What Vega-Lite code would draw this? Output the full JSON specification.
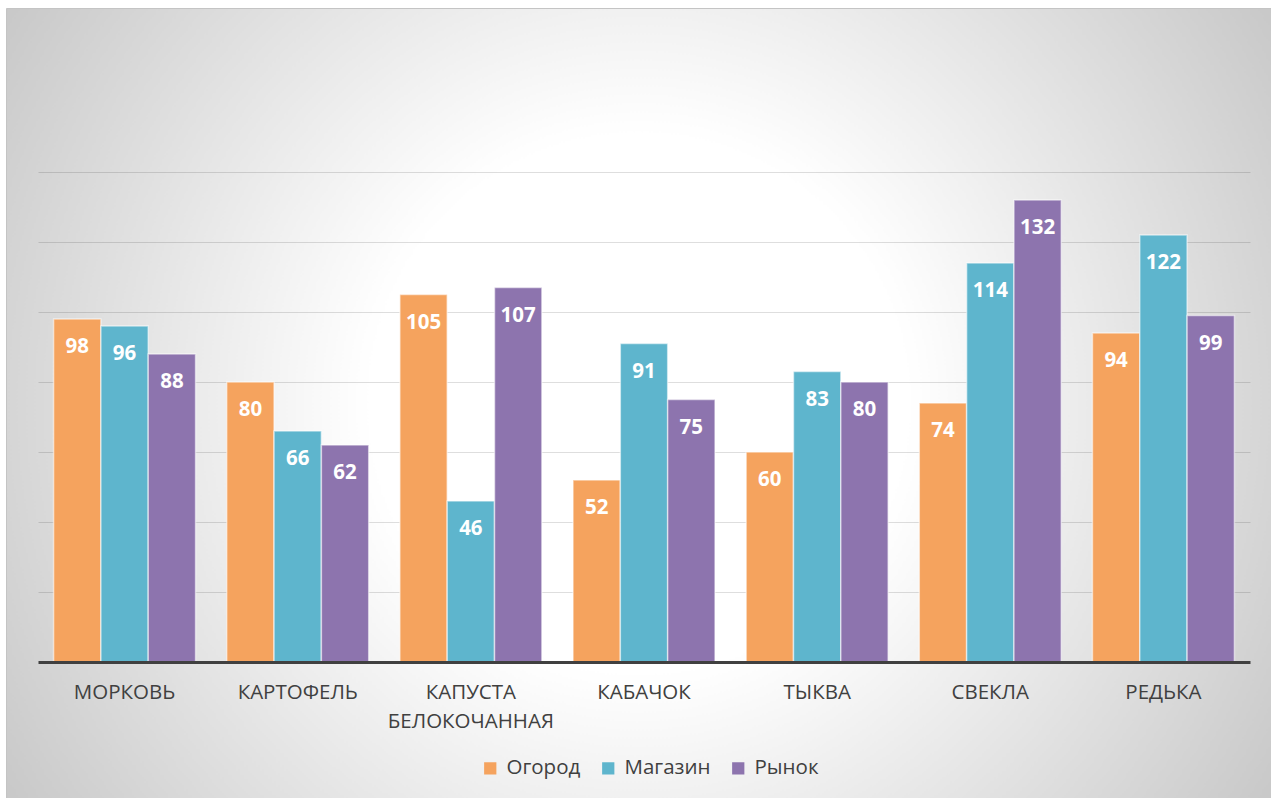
{
  "$schema": "https://vega.github.io/schema/vega-lite/v6.json",
  "width": 1265,
  "height": 790,
  "autosize": {"type": "none"},
  "padding": {"left": 6, "top": 8, "right": 0, "bottom": 0},
  "background": "#ffffff",
  "config": {
    "font": "Open Sans",
    "view": {
      "stroke": "#c4c4c4",
      "strokeWidth": 1,
      "fill": {
        "gradient": "radial",
        "x1": 0.5, "y1": 0.5, "r1": 0,
        "x2": 0.5, "y2": 0.5, "r2": 0.59,
        "stops": [
          {"offset": 0, "color": "#ffffff"},
          {"offset": 0.36, "color": "#ffffff"},
          {"offset": 1, "color": "#c8c8c8"}
        ]
      }
    }
  },
  "data": {
    "values": [
      {"veg": "МОРКОВЬ", "src": "Огород", "v": 98},
      {"veg": "МОРКОВЬ", "src": "Магазин", "v": 96},
      {"veg": "МОРКОВЬ", "src": "Рынок", "v": 88},
      {"veg": "КАРТОФЕЛЬ", "src": "Огород", "v": 80},
      {"veg": "КАРТОФЕЛЬ", "src": "Магазин", "v": 66},
      {"veg": "КАРТОФЕЛЬ", "src": "Рынок", "v": 62},
      {"veg": "КАПУСТА БЕЛОКОЧАННАЯ", "src": "Огород", "v": 105},
      {"veg": "КАПУСТА БЕЛОКОЧАННАЯ", "src": "Магазин", "v": 46},
      {"veg": "КАПУСТА БЕЛОКОЧАННАЯ", "src": "Рынок", "v": 107},
      {"veg": "КАБАЧОК", "src": "Огород", "v": 52},
      {"veg": "КАБАЧОК", "src": "Магазин", "v": 91},
      {"veg": "КАБАЧОК", "src": "Рынок", "v": 75},
      {"veg": "ТЫКВА", "src": "Огород", "v": 60},
      {"veg": "ТЫКВА", "src": "Магазин", "v": 83},
      {"veg": "ТЫКВА", "src": "Рынок", "v": 80},
      {"veg": "СВЕКЛА", "src": "Огород", "v": 74},
      {"veg": "СВЕКЛА", "src": "Магазин", "v": 114},
      {"veg": "СВЕКЛА", "src": "Рынок", "v": 132},
      {"veg": "РЕДЬКА", "src": "Огород", "v": 94},
      {"veg": "РЕДЬКА", "src": "Магазин", "v": 122},
      {"veg": "РЕДЬКА", "src": "Рынок", "v": 99}
    ]
  },
  "encoding": {
    "x": {
      "field": "veg", "type": "nominal", "sort": null,
      "scale": {"range": [32, 1244], "paddingInner": 0.18, "paddingOuter": 0.09},
      "axis": {
        "title": null, "orient": "bottom", "offset": -136,
        "labelAngle": 0, "labelExpr": "split(datum.label, ' ')",
        "labelFontSize": 20.5, "labelColor": "#404040", "labelPadding": 20,
        "labelBaseline": "top", "labelLineHeight": 29,
        "ticks": false, "domainColor": "#404040", "domainWidth": 3,
        "grid": false, "zindex": 2
      }
    },
    "xOffset": {"field": "src", "type": "nominal", "sort": ["Огород", "Магазин", "Рынок"], "scale": {"paddingInner": 0, "paddingOuter": 0}},
    "y": {
      "field": "v", "type": "quantitative",
      "scale": {"domain": [0, 140], "range": [654, 164], "nice": false, "zero": true},
      "axis": {
        "title": null, "labels": false, "ticks": false, "domain": false,
        "values": [20, 40, 60, 80, 100, 120, 140],
        "grid": true, "gridColor": "#000000", "gridOpacity": 0.13, "gridWidth": 1.2
      }
    }
  },
  "layer": [
    {
      "mark": {"type": "bar", "stroke": "#ffffff", "strokeOpacity": 0.55, "strokeWidth": 1.5},
      "encoding": {
        "color": {
          "field": "src", "type": "nominal",
          "sort": ["Огород", "Магазин", "Рынок"],
          "scale": {"domain": ["Огород", "Магазин", "Рынок"], "range": ["#F5A35E", "#5EB5CD", "#8D74AE"]},
          "legend": {
            "title": null, "orient": "none", "direction": "horizontal",
            "legendX": 474, "legendY": 750,
            "symbolType": "square", "symbolSize": 150, "symbolStrokeWidth": 0, "symbolOpacity": 1,
            "labelFontSize": 20.5, "labelColor": "#404040", "columnPadding": 17, "labelOffset": 6
          }
        }
      }
    },
    {
      "mark": {"type": "text", "color": "#ffffff", "fontWeight": "bold", "fontSize": 20.5, "baseline": "middle", "dy": 28},
      "encoding": {
        "text": {"field": "v", "type": "quantitative"}
      }
    }
  ]
}
